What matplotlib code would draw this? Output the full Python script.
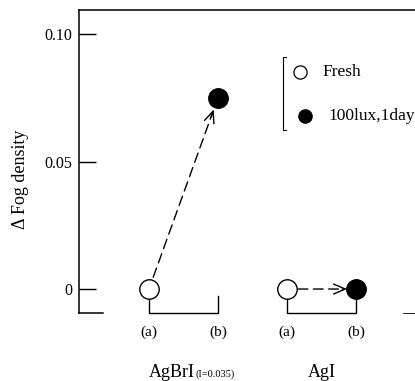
import matplotlib
matplotlib.use("Agg")
import matplotlib.pyplot as plt

plt.rcParams['font.family'] = ['Liberation Serif', 'DejaVu Serif']

# --- data ---
pos_labels = ['(a)', '(b)', '(a)', '(b)']
groups = ['AgBrI', 'AgI']
group_sub = ['(I=0.035)', '']
fresh_x = [0, 2]
fresh_y = [0.0, 0.0]
aged_x = [1, 3]
aged_y = [0.075, 0.0]
yticks = [0, 0.05, 0.10]
ytick_labels = ['0', '0.05', '0.10']

fig = plt.figure(figsize=(4.15, 3.81), dpi=100)
ax = fig.add_axes([79 / 415, 68 / 381, 336 / 415, 303 / 381])
ax.set_xlim(-1.014, 3.855)
ax.set_ylim(-0.0094, 0.1094)

for s in ['right', 'bottom']:
    ax.spines[s].set_visible(False)
for s in ['left', 'top']:
    ax.spines[s].set_linewidth(1.1)

# broken bottom axis line
ax.plot([0, 0.07], [0, 0], transform=ax.transAxes, color='k', lw=1.1, clip_on=False)
ax.plot([0.965, 1.0], [0, 0], transform=ax.transAxes, color='k', lw=0.6, clip_on=False)

ax.set_yticks(yticks)
ax.set_yticklabels(ytick_labels, fontsize=11.5)
ax.tick_params(axis='y', direction='in', length=12.5, width=1.0, pad=5)
ax.set_xticks([])
ax.set_ylabel('Δ Fog density', fontsize=13)
ax.yaxis.set_label_coords(-0.15, 0.44)

# brackets joining (a)-(b) pairs
ybot = ax.get_ylim()[0]
for xa, xb in zip(fresh_x, aged_x):
    ax.plot([xa, xa, xb, xb], [-0.0027, ybot, ybot, -0.0027], color='k', lw=1.0, clip_on=False)

# arrows (dashed shaft + solid head)
arrows = [((fresh_x[0], fresh_y[0]), (aged_x[0], aged_y[0]), 9, 9, 0.9),
          ((fresh_x[1], fresh_y[1]), (aged_x[1], aged_y[1]), 8, 6.5, 0.8)]
for (x0, y0), (x1, y1), sa, sb, t in arrows:
    ax.annotate('', xy=(x1, y1), xytext=(x0, y0),
                arrowprops=dict(arrowstyle='-', color='k', lw=1.0, linestyle=(0, (7, 4)),
                                shrinkA=sa, shrinkB=sb + 3))
    xm, ym = x0 + t * (x1 - x0), y0 + t * (y1 - y0)
    ax.annotate('', xy=(x1, y1), xytext=(xm, ym),
                arrowprops=dict(arrowstyle='->,head_length=0.7,head_width=0.3', color='k',
                                lw=1.0, shrinkA=0, shrinkB=sb, mutation_scale=12))

ax.plot(fresh_x, fresh_y, 'o', ms=14, mfc='white', mec='k', mew=1.0, zorder=5, clip_on=False)
ax.plot(aged_x, aged_y, 'o', ms=14, mfc='k', mec='k', zorder=5, clip_on=False)

# position and group labels
for x, lab in zip(range(len(pos_labels)), pos_labels):
    ax.text(x, -0.0169, lab, ha='center', va='center', fontsize=11)
ax.text(0.667, -0.0345, groups[0], ha='right', va='baseline', fontsize=13)
ax.text(0.667, -0.0343, group_sub[0], ha='left', va='baseline', fontsize=7.5)
ax.text(2.5, -0.0345, groups[1], ha='center', va='baseline', fontsize=13)

# hand-drawn style legend
tr = ax.transAxes
ax.plot([0.616, 0.607, 0.607, 0.616], [0.845, 0.845, 0.604, 0.604], transform=tr, color='k', lw=0.8)
ax.plot([0.658], [0.795], 'o', ms=9.5, mfc='white', mec='k', mew=0.9, transform=tr)
ax.plot([0.673], [0.650], 'o', ms=9.5, mfc='k', mec='k', transform=tr)
ax.text(0.726, 0.795, 'Fresh', transform=tr, va='center', fontsize=12.5)
ax.text(0.741, 0.650, '100lux,1day', transform=tr, va='center', fontsize=12.5, clip_on=False)

fig.savefig('out.png', dpi=100)
